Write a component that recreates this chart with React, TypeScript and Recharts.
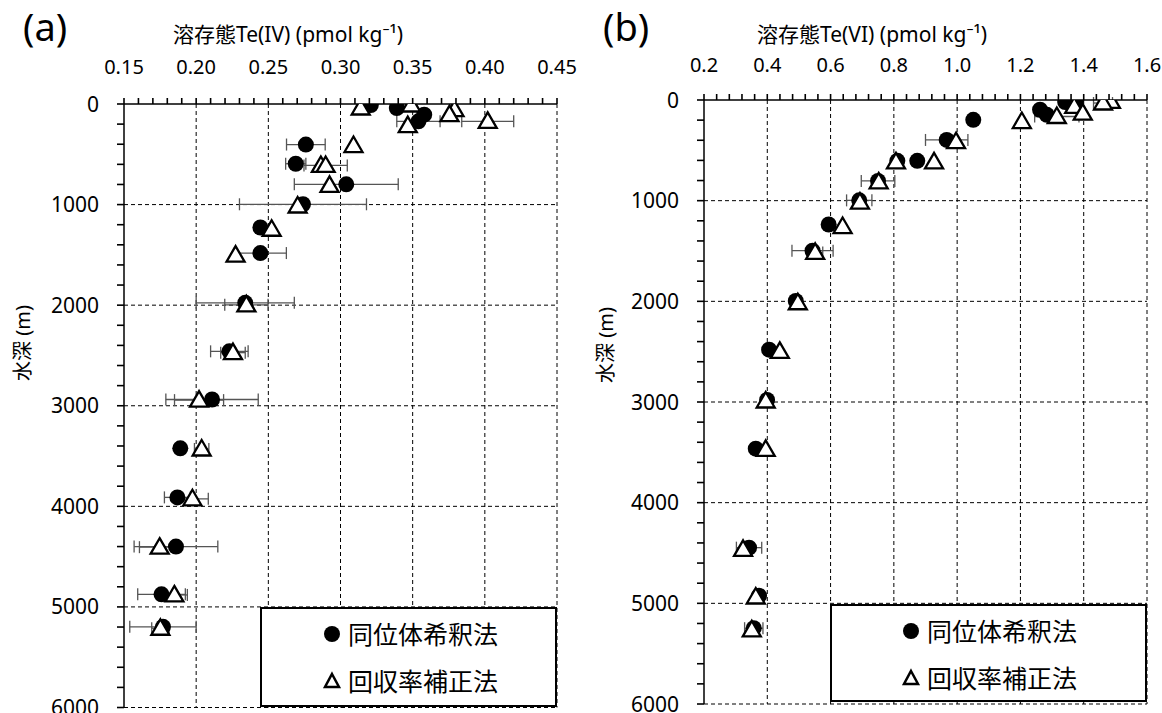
import { ScatterChart, Scatter, XAxis, YAxis, ErrorBar, ReferenceLine, Legend } from 'recharts';

const FONT = "'Noto Sans', 'Noto Sans CJK JP', sans-serif";

const SERIES_NAMES = ['同位体希釈法', '回収率補正法'];
const DEPTH_TICKS = [0, 1000, 2000, 3000, 4000, 5000, 6000];

// (a) Te(IV), pmol/kg
const te4X_TICKS = [0.15, 0.2, 0.25, 0.3, 0.35, 0.4, 0.45];
const te4IdConc = [0.321, 0.339, 0.358, 0.354, 0.276, 0.269, 0.304, 0.274, 0.2445, 0.2445, 0.234, 0.223, 0.211, 0.189, 0.187, 0.186, 0.176, 0.177];
const te4IdDepth = [10, 40, 106, 172, 403, 594, 799, 997, 1228, 1482, 1977, 2459, 2938, 3423, 3911, 4400, 4875, 5198];
const te4IdErr = [0, 0, 0, 0.015, 0.0134, 0.007, 0.036, 0.044, 0, 0.018, 0.034, 0.013, 0.032, 0, 0.009, 0.029, 0.0165, 0.023];
const te4RcConc = [0.314, 0.349, 0.379, 0.3755, 0.402, 0.3466, 0.309, 0.2864, 0.2897, 0.2924, 0.2703, 0.2523, 0.2273, 0.2348, 0.2255, 0.202, 0.2038, 0.1974, 0.1747, 0.1849, 0.1752];
const te4RcDepth = [40, 10, 56, 106, 172, 215, 413, 611, 611, 809, 1014, 1245, 1502, 1997, 2472, 2944, 3430, 3925, 4406, 4881, 5212];
const te4RcErr = [0, 0, 0, 0, 0.018, 0, 0, 0, 0.015, 0, 0, 0, 0, 0.015, 0.0085, 0.017, 0.005, 0.011, 0.014, 0.009, 0.006];

// (b) Te(VI), pmol/kg
const te6X_TICKS = [0.2, 0.4, 0.6, 0.8, 1.0, 1.2, 1.4, 1.6];
const te6IdConc = [1.376, 1.3415, 1.262, 1.2835, 1.051, 0.967, 0.811, 0.874, 0.75, 0.6906, 0.594, 0.543, 0.49, 0.4057, 0.3994, 0.3636, 0.3424, 0.374, 0.3573];
const te6IdDepth = [5, 20, 97, 147, 197, 397, 604, 604, 804, 997, 1237, 1497, 1997, 2480, 2980, 3464, 4447, 4924, 5247];
const te6IdErr = [0, 0, 0, 0, 0, 0.067, 0, 0, 0.053, 0.04, 0, 0.065, 0.012, 0, 0, 0, 0.04, 0, 0.029];
const te6RcConc = [1.486, 1.461, 1.37, 1.397, 1.315, 1.2044, 0.9965, 0.8067, 0.927, 0.752, 0.6928, 0.638, 0.5513, 0.4965, 0.4396, 0.395, 0.395, 0.3234, 0.3636, 0.351];
const te6RcDepth = [14, 30, 64, 130, 164, 214, 414, 614, 614, 814, 1014, 1257, 1514, 2014, 2497, 2990, 3470, 4464, 4937, 5264];
const te6RcErr = [0, 0.03, 0, 0, 0.07, 0, 0, 0, 0, 0, 0, 0, 0.024, 0, 0, 0, 0, 0, 0, 0];

const zip = (xs: number[], ds: number[], es: number[]) =>
  xs.map((x, i) => ({ x, depth: ds[i], err: es[i] || undefined }));

const steps = (from: number, to: number, step: number) => {
  const n = Math.round((to - from) / step);
  return Array.from({ length: n + 1 }, (_, i) => +(from + i * step).toFixed(3));
};

const Dot = (p: any) => <circle cx={p.cx} cy={p.cy} r={8} fill="#000" />;
const Tri = (p: any) => (
  <path
    d={`M${p.cx},${p.cy - 9} L${p.cx + 9},${p.cy + 6.5} L${p.cx - 9},${p.cy + 6.5} Z`}
    fill="#fff"
    stroke="#000"
    strokeWidth={2.3}
  />
);

function LegendBox({ w, h, iconX }: { w: number; h: number; iconX: number }) {
  const row = (top: number, icon: any, label: string) => (
    <div style={{ position: 'absolute', left: 0, top, height: 30, width: w }}>
      <svg width={20} height={20} style={{ position: 'absolute', left: iconX - 10, top: 5 }}>{icon}</svg>
      <span style={{ position: 'absolute', left: iconX + 16, top: 0, lineHeight: '30px' }}>{label}</span>
    </div>
  );
  return (
    <div style={{ position: 'relative', width: w, height: h, boxSizing: 'border-box', border: '2px solid #000', background: '#fff', fontFamily: FONT, fontSize: 25, color: '#000' }}>
      {row(10, <circle cx={10} cy={10} r={8} fill="#000" />, SERIES_NAMES[0])}
      {row(57, <path d="M10,3 L17,16 L3,16 Z" fill="#fff" stroke="#000" strokeWidth={2.5} />, SERIES_NAMES[1])}
    </div>
  );
}

interface PanelProps {
  left: number;
  width: number;
  margin: { top: number; right: number; bottom: number; left: number };
  domain: [number, number];
  minorStep: number;
  majors: number[];
  digits: number;
  tickGap: number;
  ids: { x: number; depth: number; err?: number }[];
  rcs: { x: number; depth: number; err?: number }[];
  legend: { left: number; top: number; width: number; height: number; iconX: number };
}

const TICK = { stroke: '#000', strokeWidth: 1.6 };

function Panel(p: PanelProps) {
  const xTicks = steps(p.domain[0], p.domain[1], p.minorStep);
  const yTicks = steps(0, 6000, 200);
  const isMajor = (v: number) => p.majors.some((m) => Math.abs(m - v) < 1e-6);
  return (
    <div style={{ position: 'absolute', left: p.left, top: 0 }}>
      <ScatterChart width={p.width} height={713} margin={p.margin}>
        <XAxis
          type="number"
          dataKey="x"
          orientation="top"
          height={30}
          domain={p.domain}
          ticks={xTicks}
          interval={0}
          allowDataOverflow
          axisLine={{ stroke: '#000', strokeWidth: 1.5 }}
          tickLine={TICK}
          tickSize={6}
          tickMargin={p.tickGap - 1}
          tick={(t: any) =>
            isMajor(t.payload.value) ? (
              <text x={t.x} y={t.y} textAnchor="middle" fontSize={20} fontFamily={FONT} fill="#000">
                {Number(t.payload.value).toFixed(p.digits)}
              </text>
            ) : (
              <g />
            )
          }
        />
        <YAxis
          type="number"
          dataKey="depth"
          reversed
          width={60}
          domain={[0, 6000]}
          ticks={yTicks}
          interval={0}
          allowDataOverflow
          axisLine={{ stroke: '#000', strokeWidth: 1.5 }}
          tickLine={TICK}
          tickSize={7}
          tickMargin={18}
          tick={(t: any) =>
            DEPTH_TICKS.includes(t.payload.value) ? (
              <text x={t.x} y={t.y} dy="0.36em" textAnchor="end" fontSize={21} fontFamily={FONT} fill="#000">
                {t.payload.value}
              </text>
            ) : (
              <g />
            )
          }
        />
        {p.majors.slice(1).map((v) => (
          <ReferenceLine key={`vx${v}`} x={v} stroke="#000" strokeDasharray="4 3" strokeWidth={1} />
        ))}
        {DEPTH_TICKS.slice(1).map((v) => (
          <ReferenceLine key={`hy${v}`} y={v} stroke="#000" strokeDasharray="4 3" strokeWidth={1} />
        ))}
        <Scatter name={SERIES_NAMES[0]} data={p.ids} shape={Dot} isAnimationActive={false}>
          <ErrorBar dataKey="err" direction="x" width={6} stroke="#555" strokeWidth={1.3} />
        </Scatter>
        <Scatter name={SERIES_NAMES[1]} data={p.rcs} shape={Tri} isAnimationActive={false}>
          <ErrorBar dataKey="err" direction="x" width={6} stroke="#555" strokeWidth={1.3} />
        </Scatter>
        <Legend
          layout="horizontal"
          verticalAlign="middle"
          align="center"
          wrapperStyle={{ left: p.legend.left, top: p.legend.top, width: p.legend.width, height: p.legend.height }}
          content={() => <LegendBox w={p.legend.width} h={p.legend.height} iconX={p.legend.iconX} />}
        />
      </ScatterChart>
    </div>
  );
}

const textBase = { position: 'absolute' as const, fontFamily: FONT, color: '#000', whiteSpace: 'nowrap' as const, lineHeight: 1 };

export default function App() {
  return (
    <div style={{ position: 'absolute', left: 0, top: 0, width: 1162, height: 713, background: '#fff', overflow: 'hidden' }}>
      <Panel
        left={0}
        width={580}
        margin={{ top: 74, right: 23, bottom: 5.5, left: 64 }}
        domain={[0.15, 0.45]}
        minorStep={0.01}
        majors={te4X_TICKS}
        digits={2}
        tickGap={25}
        ids={zip(te4IdConc, te4IdDepth, te4IdErr)}
        rcs={zip(te4RcConc, te4RcDepth, te4RcErr)}
        legend={{ left: 260, top: 607, width: 297, height: 100, iconX: 70 }}
      />
      <Panel
        left={580}
        width={582}
        margin={{ top: 70, right: 15, bottom: 9, left: 64 }}
        domain={[0.2, 1.6]}
        minorStep={0.04}
        majors={te6X_TICKS}
        digits={1}
        tickGap={23}
        ids={zip(te6IdConc, te6IdDepth, te6IdErr)}
        rcs={zip(te6RcConc, te6RcDepth, te6RcErr)}
        legend={{ left: 250, top: 604, width: 317, height: 98, iconX: 79 }}
      />
      <div style={{ ...textBase, left: 23, top: 7, fontSize: 38 }}>(a)</div>
      <div style={{ ...textBase, left: 603, top: 7, fontSize: 38 }}>(b)</div>
      <div style={{ ...textBase, left: 173, top: 24, fontSize: 21 }}>溶存態Te(IV) (pmol kg⁻¹)</div>
      <div style={{ ...textBase, left: 757, top: 24, fontSize: 21 }}>溶存態Te(VI) (pmol kg⁻¹)</div>
      <div style={{ ...textBase, left: 23, top: 343, fontSize: 20, transform: 'translate(-50%, -50%) rotate(-90deg)' }}>水深 (m)</div>
      <div style={{ ...textBase, left: 606, top: 345, fontSize: 20, transform: 'translate(-50%, -50%) rotate(-90deg)' }}>水深 (m)</div>
    </div>
  );
}
